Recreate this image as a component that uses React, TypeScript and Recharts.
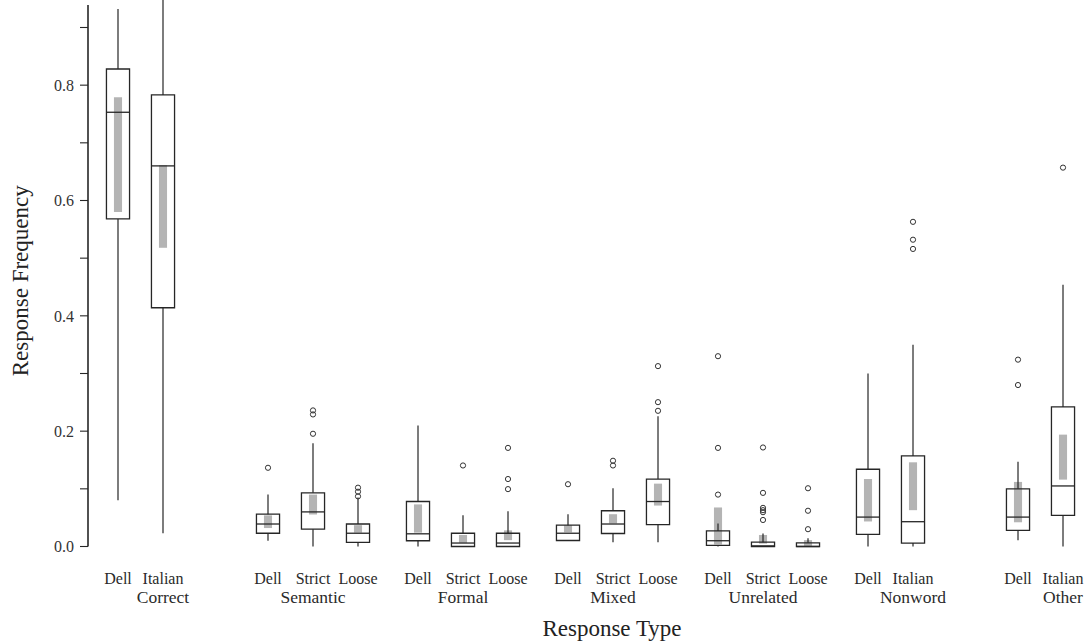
import React from 'react';
import {
  ScatterChart,
  Scatter,
  XAxis,
  YAxis,
  ReferenceArea,
  ReferenceLine,
} from 'recharts';

// Response type groups and the sources within each group
const groupNames = ['Correct', 'Semantic', 'Formal', 'Mixed', 'Unrelated', 'Nonword', 'Other'];
const slotLabels = [
  'Dell', 'Italian',
  'Dell', 'Strict', 'Loose',
  'Dell', 'Strict', 'Loose',
  'Dell', 'Strict', 'Loose',
  'Dell', 'Strict', 'Loose',
  'Dell', 'Italian',
  'Dell', 'Italian',
];
const slotGroup = [0, 0, 1, 1, 1, 2, 2, 2, 3, 3, 3, 4, 4, 4, 5, 5, 6, 6];
const slotPositions = [0, 0.3, 1, 1.3, 1.6, 2, 2.3, 2.6, 3, 3.3, 3.6, 4, 4.3, 4.6, 5, 5.3, 6, 6.3];

// Box statistics per slot
const whiskerLow = [0.08, 0.023, 0.01, 0.0, 0.0, 0.0, 0.0, 0.0, 0.01, 0.0075, 0.0075, 0.0, 0.0, 0.0, 0.0, 0.0, 0.011, 0.0];
const q1 = [0.568, 0.414, 0.023, 0.03, 0.007, 0.01, 0.0, 0.0, 0.0104, 0.0225, 0.038, 0.002, 0.0, 0.0, 0.021, 0.006, 0.028, 0.054];
const median = [0.753, 0.66, 0.039, 0.06, 0.023, 0.022, 0.006, 0.006, 0.023, 0.039, 0.078, 0.01, 0.001, 0.0, 0.051, 0.043, 0.051, 0.105];
const q3 = [0.828, 0.783, 0.056, 0.093, 0.039, 0.078, 0.023, 0.023, 0.037, 0.062, 0.117, 0.027, 0.0075, 0.0064, 0.134, 0.157, 0.1, 0.242];
const whiskerHigh = [0.932, 0.96, 0.09, 0.179, 0.085, 0.21, 0.054, 0.061, 0.056, 0.101, 0.226, 0.04, 0.0225, 0.0145, 0.3, 0.35, 0.147, 0.454];
// Grey confidence bars
const greyLow = [0.58, 0.518, 0.032, 0.0555, 0.024, 0.024, 0.0064, 0.011, 0.0245, 0.04, 0.071, 0.0035, 0.005, 0.001, 0.0434, 0.063, 0.042, 0.116];
const greyHigh = [0.779, 0.661, 0.054, 0.09, 0.037, 0.073, 0.02, 0.028, 0.037, 0.056, 0.109, 0.0677, 0.02, 0.011, 0.117, 0.146, 0.112, 0.194];

// Outliers: slot index and value
const outlierSlot = [2, 3, 3, 3, 4, 4, 4, 6, 7, 7, 7, 8, 9, 9, 10, 10, 10, 11, 11, 11, 12, 12, 12, 12, 12, 12, 13, 13, 13, 15, 15, 15, 16, 16, 17];
const outlierValue = [
  0.1365,
  0.236, 0.229, 0.1955,
  0.102, 0.095, 0.087,
  0.1405,
  0.171, 0.117, 0.0995,
  0.108,
  0.1487, 0.1405,
  0.3128, 0.2503, 0.2353,
  0.33, 0.171, 0.09,
  0.1717, 0.093, 0.067, 0.063, 0.0595, 0.046,
  0.101, 0.062, 0.03,
  0.563, 0.532, 0.516,
  0.324, 0.28,
  0.657,
];

const yTicks = [0, 0.1, 0.2, 0.3, 0.4, 0.5, 0.6, 0.7, 0.8, 0.9];

const outliers = outlierSlot.map((s, i) => ({ x: slotPositions[s], y: outlierValue[i] }));

const BOX_HALF = 0.077;
const GREY_HALF = 0.027;
const INK = '#262626';
const FONT = '"Liberation Serif", "Times New Roman", serif';

const XTick = (props: any) => {
  const { x, y, payload } = props;
  const idx = slotPositions.findIndex((p) => Math.abs(p - payload.value) < 1e-6);
  if (idx < 0) return null;
  const g = slotGroup[idx];
  const first = slotGroup.indexOf(g);
  const showGroup = idx - first === 1;
  return (
    <g>
      <text x={x} y={y + 37.5} textAnchor="middle" fontSize={16} fill="#2a2a2a" fontFamily={FONT}>
        {slotLabels[idx]}
      </text>
      {showGroup && (
        <text x={x} y={y + 56.5} textAnchor="middle" fontSize={17.5} fill="#2a2a2a" fontFamily={FONT}>
          {groupNames[g]}
        </text>
      )}
      {idx === 10 && (
        <text x={x - 46} y={y + 89.5} textAnchor="middle" fontSize={23} fill="#222" fontFamily={FONT}>
          Response Type
        </text>
      )}
    </g>
  );
};

const YLabel = (props: any) => {
  const vb = props.viewBox || { x: 0, y: 5, width: 88, height: 541.5 };
  const cx = vb.x + 28;
  const cy = vb.y + vb.height / 2 + 5;
  return (
    <text
      x={cx}
      y={cy}
      transform={`rotate(-90 ${cx} ${cy})`}
      textAnchor="middle"
      fontSize={23}
      fill="#222"
      fontFamily={FONT}
    >
      Response Frequency
    </text>
  );
};

export default function App() {
  return (
    <div
      style={{
        position: 'absolute',
        left: 0,
        top: 0,
        width: 1089,
        height: 641,
        overflow: 'hidden',
        background: '#fff',
      }}
    >
      <ScatterChart width={1140} height={641} margin={{ top: 5, right: 0, bottom: 0, left: 0 }}>
        <XAxis
          type="number"
          dataKey="x"
          domain={[-0.2, 6.8133]}
          allowDataOverflow
          ticks={slotPositions}
          interval={0}
          axisLine={false}
          tickLine={false}
          tickSize={0}
          tickMargin={0}
          height={94.5}
          tick={<XTick />}
        />
        <YAxis
          type="number"
          dataKey="y"
          domain={[0, 0.939]}
          allowDataOverflow
          ticks={yTicks}
          interval={0}
          width={88}
          tickSize={8}
          tickMargin={6}
          tickFormatter={(v: number) => (Math.round(v * 10) % 2 === 0 ? v.toFixed(1) : '')}
          tick={{ fontSize: 16, fill: '#333', fontFamily: FONT }}
          axisLine={{ stroke: INK, strokeWidth: 1.6 }}
          tickLine={{ stroke: INK, strokeWidth: 1.1 }}
          label={<YLabel />}
        />
        {slotPositions.map((x, i) => (
          <ReferenceArea
            key={`grey-${i}`}
            x1={x - GREY_HALF}
            x2={x + GREY_HALF}
            y1={greyLow[i]}
            y2={greyHigh[i]}
            fill="#b4b4b4"
            fillOpacity={1}
            stroke="none"
            ifOverflow="visible"
          />
        ))}
        {slotPositions.map((x, i) => (
          <ReferenceArea
            key={`box-${i}`}
            x1={x - BOX_HALF}
            x2={x + BOX_HALF}
            y1={q1[i]}
            y2={q3[i]}
            fill="none"
            fillOpacity={0}
            stroke={INK}
            strokeWidth={1.3}
            ifOverflow="visible"
          />
        ))}
        {slotPositions.map((x, i) => (
          <ReferenceLine
            key={`med-${i}`}
            segment={[
              { x: x - BOX_HALF, y: median[i] },
              { x: x + BOX_HALF, y: median[i] },
            ]}
            stroke={INK}
            strokeWidth={1.3}
            ifOverflow="visible"
          />
        ))}
        {slotPositions.map((x, i) => (
          <ReferenceLine
            key={`wh-${i}`}
            segment={[
              { x, y: q3[i] },
              { x, y: whiskerHigh[i] },
            ]}
            stroke={INK}
            strokeWidth={1.2}
            ifOverflow="visible"
          />
        ))}
        {slotPositions.map((x, i) => (
          <ReferenceLine
            key={`wl-${i}`}
            segment={[
              { x, y: whiskerLow[i] },
              { x, y: q1[i] },
            ]}
            stroke={INK}
            strokeWidth={1.2}
            ifOverflow="visible"
          />
        ))}
        <Scatter
          data={outliers}
          isAnimationActive={false}
          shape={(p: any) => (
            <circle cx={p.cx} cy={p.cy} r={2.6} fill="none" stroke="#333" strokeWidth={1} />
          )}
        />
      </ScatterChart>
    </div>
  );
}
